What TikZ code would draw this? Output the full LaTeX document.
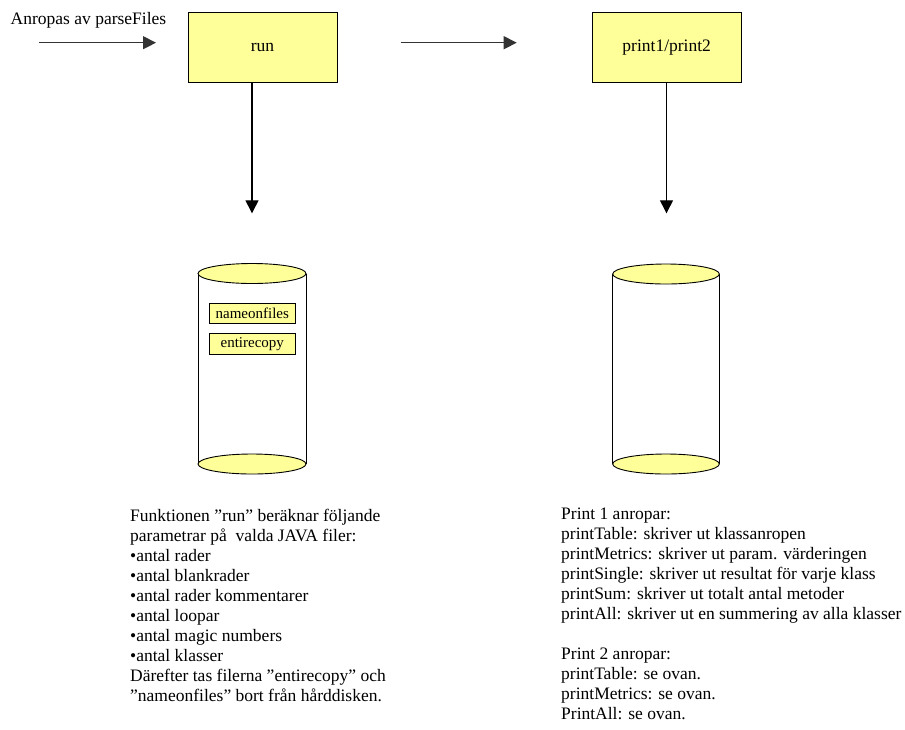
\documentclass[tikz,border=0pt]{standalone}
\usepackage{fontspec}
\setmainfont{Liberation Serif}
\usetikzlibrary{arrows.meta}
\definecolor{paleyellow}{HTML}{FFFF99}
\begin{document}
\begin{tikzpicture}[x=1pt,y=-1pt,
  proc/.style={draw=black, fill=paleyellow, line width=1pt, minimum width=149pt,
    minimum height=70pt, inner sep=0pt, font=\fontsize{17.5}{20}\selectfont},
  tag/.style={draw=black, fill=paleyellow, line width=1pt, minimum width=86pt,
    minimum height=20.5pt, inner sep=0pt, font=\fontsize{15}{17}\selectfont},
  flow/.style={line width=1.3pt, draw=black!80, -{Triangle[length=13pt,width=13pt]}},
  note/.style={align=left, anchor=north west, inner sep=0pt,
    font=\fontsize{17.5}{20}\selectfont},
  drumside/.style={line width=0.9pt, draw=black},
  drumcap/.style={line width=0.9pt, draw=black, fill=paleyellow}
]
\useasboundingbox (0,0) rectangle (905,729);

% caller label and incoming arrow
\node[anchor=west, inner sep=0pt, font=\fontsize{17.5}{20}\selectfont] (caller) at (10.5,20) {Anropas av parseFiles};
\coordinate (inA) at (39,42.7);
\coordinate (inB) at (156,42.7);
\draw[flow] (inA) -- (inB);

% process boxes
\node[proc] (run) at (262.5,47.7) {run};
\node[proc] (print) at (666.7,47.7) {print1/print2};

% arrow between the two stages
\coordinate (midA) at (400.7,42.7);
\coordinate (midB) at (516.7,42.7);
\draw[flow] (midA) -- (midB);

% downward arrows
\coordinate (runout) at (252,213.3);
\coordinate (printout) at (666.5,213.3);
\draw[flow, draw=black] (run.south -| runout) -- (runout);
\draw[flow, draw=black] (print.south -| printout) -- (printout);

% left storage drum
\draw[drumside] (198,273.5) -- (198,464) (306,273.5) -- (306,464);
\draw[drumcap] (252,464) ellipse [x radius=54, y radius=10];
\draw[drumcap] (252,273.5) ellipse [x radius=54, y radius=10];
\node[tag] (names) at (252.3,313.7) {nameonfiles};
\node[tag] (copy) at (252.3,344.2) {entirecopy};

% right storage drum
\draw[drumside] (612.7,274) -- (612.7,464) (719.3,274) -- (719.3,464);
\draw[drumcap] (666,464) ellipse [x radius=53.3, y radius=10];
\draw[drumcap] (666,274) ellipse [x radius=53.3, y radius=10];

% descriptions
\node[note] (runtext) at (130,508.5) {Funktionen ”run” beräknar följande\\
parametrar på\ \ valda JAVA filer:\\
•antal rader\\
•antal blankrader\\
•antal rader kommentarer\\
•antal loopar\\
•antal magic numbers\\
•antal klasser\\
Därefter tas filerna ”entirecopy” och\\
”nameonfiles” bort från hårddisken.};

\node[note] (printtext) at (561,507.5) {Print 1 anropar:\\
printTable: skriver ut klassanropen\\
printMetrics: skriver ut param. värderingen\\
printSingle: skriver ut resultat för varje klass\\
printSum: skriver ut totalt antal metoder\\
printAll: skriver ut en summering av alla klasser\\[20pt]
Print 2 anropar:\\
printTable: se ovan.\\
printMetrics: se ovan.\\
PrintAll: se ovan.};
\end{tikzpicture}
\end{document}
